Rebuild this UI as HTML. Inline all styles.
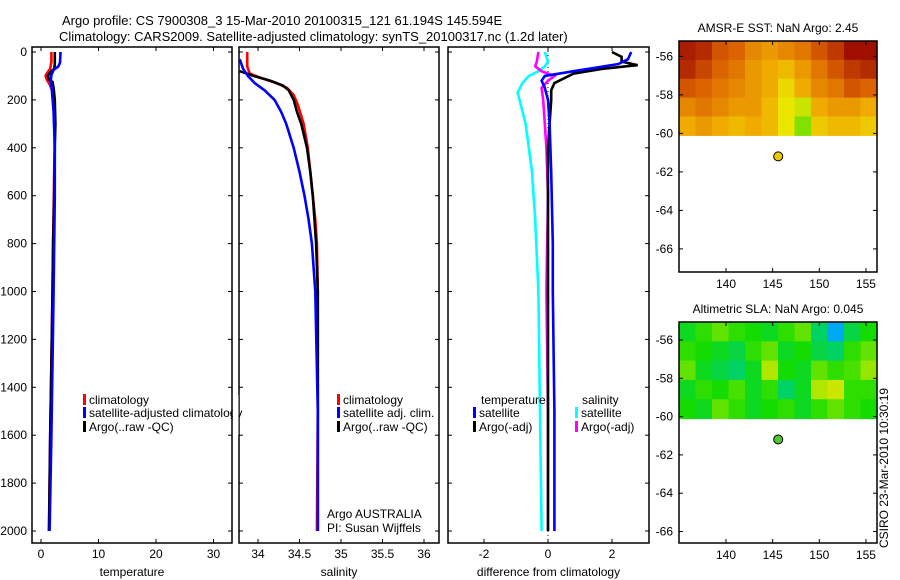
<!DOCTYPE html>
<html><head><meta charset="utf-8"><style>
body{margin:0;background:#fff}
svg{display:block;font-family:"Liberation Sans",sans-serif;font-size:12px}
</style></head><body>
<svg id="fig" width="900" height="580" viewBox="0 0 900 580" xmlns="http://www.w3.org/2000/svg">
<text x="62" y="25" font-size="13">Argo profile: CS 7900308_3 15-Mar-2010 20100315_121 61.194S 145.594E</text>
<text x="59" y="41" font-size="13">Climatology: CARS2009. Satellite-adjusted climatology: synTS_20100317.nc (1.2d later)</text>
<text transform="translate(888,468) rotate(-90)" text-anchor="middle" font-size="12">CSIRO 23-Mar-2010 10:30:19</text>
<g id="g"></g>
</svg>
<script>
// ---- data ----
const depthTicks=[0,200,400,600,800,1000,1200,1400,1600,1800,2000];
const tTicks=[0,10,20,30];
const sTicks=[34,34.5,35,35.5,36];
const dTicks=[-2,0,2];
const latTicksTop=[-56,-58,-60,-62,-64,-66];
const lonTicks=[140,145,150,155];
// temperature profiles
const tClimDepth=[0,40,70,90,100,115,135,170,220,300,500,800,1000,1300,1600,2000];
const tClimVal=[1.8,1.8,1.6,1.0,0.8,1.0,1.5,2.1,2.3,2.4,2.3,2.1,2.0,1.8,1.6,1.4];
const tSatDepth=[0,45,60,75,95,120,160,250,400,600,800,1000,1300,1600,2000];
const tSatVal=[3.4,3.3,3.0,2.2,1.8,1.7,1.9,2.2,2.4,2.4,2.3,2.2,2.0,1.8,1.5];
const tArgoDepth=[0,50,70,85,100,115,125,150,200,300,400,600,800,1000,1300,1600,2000];
const tArgoVal=[2.4,2.4,2.3,1.6,1.2,1.4,2.0,2.2,2.4,2.5,2.4,2.3,2.1,2.0,1.8,1.6,1.4];
// salinity profiles
const sClimDepth=[0,60,90,110,130,150,180,220,300,400,500,600,700,800,1000,1500,2000];
const sClimVal=[33.87,33.87,33.9,34.05,34.22,34.35,34.43,34.48,34.55,34.6,34.63,34.66,34.69,34.71,34.72,34.72,34.71];
const sSatDepth=[30,70,100,130,160,200,250,300,400,500,600,700,800,1000,1500,2000];
const sSatVal=[33.78,33.82,33.88,33.96,34.08,34.2,34.28,34.34,34.43,34.5,34.56,34.61,34.65,34.69,34.72,34.72];
const sArgoDepth=[80,100,120,140,160,200,250,300,400,500,600,800,1000,1500,2000];
const sArgoVal=[33.78,33.95,34.15,34.3,34.37,34.43,34.47,34.52,34.59,34.63,34.66,34.7,34.72,34.72,34.72];
// difference profiles
const dTSatDepth=[0,30,50,65,80,100,120,150,200,300,500,800,1000,1500,2000];
const dTSatVal=[2.6,2.5,2.2,1.5,0.8,-0.1,-0.2,-0.1,0.0,0.05,0.1,0.15,0.15,0.2,0.2];
const dTArgoDepth=[0,20,40,55,70,90,110,130,160,200,300,400,600,1000,2000];
const dTArgoVal=[2.0,2.3,2.3,2.8,1.7,0.8,0.5,0.2,0.1,0.1,0.05,0.0,0.0,0.0,0.0];
const dSSatDepth=[0,40,60,80,100,130,170,220,300,400,500,700,1000,1500,2000];
const dSSatVal=[-0.1,0.0,-0.1,-0.3,-0.6,-0.8,-0.95,-0.85,-0.7,-0.6,-0.5,-0.4,-0.3,-0.25,-0.2];
const dSArgoDepth=[0,40,60,80,100,120,150,200,300,400,600,1000,1500,2000];
const dSArgoVal=[-0.3,-0.35,-0.4,-0.2,0.2,0.0,-0.2,-0.15,-0.1,-0.05,0.0,-0.05,0.0,0.0];
// map grids (normalized colour values, rows north->south)
const sstGrid=[
[.1,.15,.3,.35,.45,.5,.45,.4,.3,.2,.05,.05],
[.15,.25,.35,.4,.5,.55,.6,.5,.4,.3,.2,.15],
[.3,.35,.4,.45,.5,.55,.7,.55,.45,.4,.3,.35],
[.45,.4,.45,.5,.5,.6,.75,.8,.55,.5,.5,.55],
[.55,.5,.55,.6,.55,.6,.75,.9,.65,.6,.6,.65]];
const slaGrid=[
[.4,.5,.6,.5,.45,.4,.5,.6,.3,0,.35,.45],
[.5,.45,.4,.35,.5,.6,.4,.45,.35,.3,.5,.6],
[.6,.4,.35,.3,.4,.8,.45,.4,.6,.5,.55,.7],
[.4,.5,.45,.55,.4,.5,.3,.4,.8,.9,.5,.5],
[.45,.4,.6,.5,.4,.45,.5,.4,.5,.6,.5,.45]];
const argoLon=145.594, argoLat=-61.194;

const NS='http://www.w3.org/2000/svg';
const G=document.getElementById('g');
function mk(tag,attrs,parent){const e=document.createElementNS(NS,tag);for(const k in attrs)e.setAttribute(k,attrs[k]);(parent||G).appendChild(e);return e;}
function txt(x,y,s,anchor,parent){const e=mk('text',{x:x,y:y,'text-anchor':anchor||'start'},parent);e.textContent=s;return e;}

const yD=d=>52+d*0.2395;
const axes=[
 {name:'temperature',x0:32,x1:232,fx:v=>41+v*5.75,ticks:tTicks,label:'temperature'},
 {name:'salinity',x0:239,x1:439,fx:v=>258+(v-34)*83,ticks:sTicks,label:'salinity'},
 {name:'difference',x0:448,x1:649,fx:v=>548+v*32,ticks:dTicks,label:'difference from climatology'}];
const yTop=47,yBot=543;
axes.forEach((a,i)=>{
 const g=mk('g',{});
 
 
 const r=mk('rect',{x:a.x0,y:yTop,width:a.x1-a.x0,height:yBot-yTop,fill:'none',stroke:'#000','stroke-width':1.5},g);
 
 
 a.ticks.forEach(v=>{const x=a.fx(v);
  mk('line',{x1:x,x2:x,y1:yBot,y2:yBot-4,stroke:'#000'},g);mk('line',{x1:x,x2:x,y1:yTop,y2:yTop+4,stroke:'#000'},g);
  const t=txt(x,558,String(v),'middle',g);
  
  });
 depthTicks.forEach(d=>{const y=yD(d);
  mk('line',{x1:a.x0,x2:a.x0+4,y1:y,y2:y,stroke:'#000'},g);mk('line',{x1:a.x1,x2:a.x1-4,y1:y,y2:y,stroke:'#000'},g);
  if(i===0){const t=txt(27,y+4,String(d),'end',g);
   
   }});
 const l=txt((a.x0+a.x1)/2,576,a.label,'middle',g);
 
 
});
const zl=mk('line',{x1:548,x2:548,y1:yTop,y2:yBot,stroke:'#000','stroke-dasharray':'1,3'});



function line(ax,dep,val,col,name){
 const a=axes[ax];
 const pts=dep.map((d,i)=>a.fx(val[i]).toFixed(1)+','+yD(d).toFixed(1)).join(' ');
 const p=mk('polyline',{points:pts,fill:'none',stroke:col,'stroke-width':2.6,'stroke-linejoin':'miter'});
 
 
}
line(0,tClimDepth,tClimVal,'#f00','temp-climatology-line');
line(0,tArgoDepth,tArgoVal,'#000','temp-argo-line');
line(0,tSatDepth,tSatVal,'#00f','temp-satellite-line');
line(1,sClimDepth,sClimVal,'#f00','sal-climatology-line');
line(1,sArgoDepth,sArgoVal,'#000','sal-argo-line');
line(1,sSatDepth,sSatVal,'#00f','sal-satellite-line');
line(2,dSSatDepth,dSSatVal,'#0ff','diff-sal-satellite-line');
line(2,dSArgoDepth,dSArgoVal,'#f0f','diff-sal-argo-line');
line(2,dTArgoDepth,dTArgoVal,'#000','diff-temp-argo-line');
line(2,dTSatDepth,dTSatVal,'#00f','diff-temp-satellite-line');

function legend(x,y,col,label,name){
 const g=mk('g',{});
 
 
 mk('rect',{x:x,y:y-10,width:3,height:11,fill:col},g);
 txt(x+6,y,label,'start',g);
}
legend(83,404,'#f00','climatology','legend-temp-climatology');
legend(83,417,'#00f','satellite-adjusted climatology','legend-temp-satellite');
legend(83,431,'#000','Argo(..raw -QC)','legend-temp-argo');
legend(337,404,'#f00','climatology','legend-sal-climatology');
legend(337,417,'#00f','satellite adj. clim.','legend-sal-satellite');
legend(337,431,'#000','Argo(..raw -QC)','legend-sal-argo');
const lt=txt(481,404,'temperature');
const ls=txt(582,404,'salinity');
legend(473,417,'#00f','satellite','legend-diff-temp-satellite');
legend(473,431,'#000','Argo(-adj)','legend-diff-temp-argo');
legend(575,417,'#0ff','satellite','legend-diff-sal-satellite');
legend(575,431,'#f0f','Argo(-adj)','legend-diff-sal-argo');
mk('rect',{x:233,y:395,width:5.5,height:40,fill:'#fff'});
const c1=txt(327,518,'Argo AUSTRALIA');
const c2=txt(327,532,'PI: Susan Wijffels');

function lerp(stops,v){v=Math.max(0,Math.min(1,v));for(let i=1;i<stops.length;i++){if(v<=stops[i][0]){const a=stops[i-1],b=stops[i],t=(v-a[0])/(b[0]-a[0]);return 'rgb('+[1,2,3].map(k=>Math.round(a[k]+(b[k]-a[k])*t)).join(',')+')';}}return 'rgb('+stops[stops.length-1].slice(1).join(',')+')';}
const sstStops=[[0,150,0,0],[.35,220,100,0],[.55,240,170,0],[.75,235,230,0],[1,60,220,0]];
const slaStops=[[0,0,170,240],[.3,0,210,100],[.45,20,220,0],[.7,150,230,0],[1,230,230,0]];
function map(name,title,y0,y1,latTop,latBot,grid,stops,dotCol,latTicks){
 const x0=679,x1=877;
 const fx=l=>726+(l-140)*9.33;
 const fy=l=>y0+(latTop-l)*(y1-y0)/(latTop-latBot);
 const g=mk('g',{});
 
 
 const tt=txt(778,y0-9,title,'middle',g);
 
 
 const rows=grid.length,cols=grid[0].length;
 const ye=fy(-60.1),cw=(x1-x0)/cols,ch=(ye-y0)/rows;
 grid.forEach((row,r)=>row.forEach((v,c)=>{
  const cell=mk('rect',{x:x0+c*cw,y:y0+r*ch,width:cw+0.6,height:ch+0.6,fill:lerp(stops,v)},g);
  
  
 }));
 mk('rect',{x:x0,y:y0,width:x1-x0,height:y1-y0,fill:'none',stroke:'#000','stroke-width':1.5},g);
 latTicks.forEach(l=>{const y=fy(l);mk('line',{x1:x0,x2:x0+4,y1:y,y2:y,stroke:'#000'},g);mk('line',{x1:x1,x2:x1-4,y1:y,y2:y,stroke:'#000'},g);
  const t=txt(673,y+4,String(l),'end',g);});
 lonTicks.forEach(l=>{const x=fx(l);mk('line',{x1:x,x2:x,y1:y1,y2:y1-4,stroke:'#000'},g);mk('line',{x1:x,x2:x,y1:y0,y2:y0+4,stroke:'#000'},g);
  const t=txt(x,y1+16,String(l),'middle',g);});
 const d=mk('circle',{cx:fx(argoLon),cy:fy(argoLat),r:4.5,fill:dotCol,stroke:'#000','stroke-width':1},g);
 
 
}
map('sst','AMSR-E SST: NaN Argo: 2.45',41,272,-55.2,-67.2,sstGrid,sstStops,'#f0c800',latTicksTop);
map('sla','Altimetric SLA: NaN Argo: 0.045',322,543,-55.06,-66.6,slaGrid,slaStops,'#50c828',latTicksTop);
</script>
</body></html>
